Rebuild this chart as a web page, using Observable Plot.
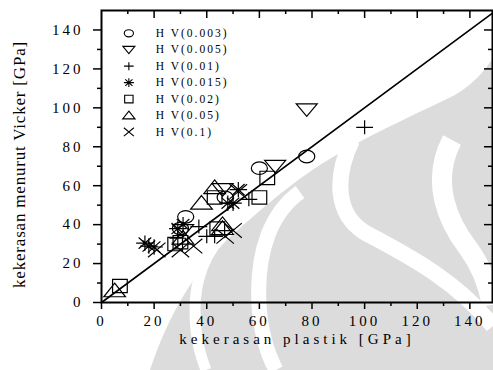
<!DOCTYPE html>
<html><head><meta charset="utf-8">
<script src="https://cdn.jsdelivr.net/npm/d3@7"></script>
<script src="https://cdn.jsdelivr.net/npm/@observablehq/plot@0.6"></script>
<style>
body{margin:0;background:#fff;}
#chart{position:relative;width:493px;height:370px;}
#chart svg{font-family:"Liberation Serif","Times New Roman",serif;}
#wm{position:absolute;left:0;top:0;}
#chart > svg.plot{position:absolute;left:0;top:0;}
</style>
</head><body><div id="chart">
<svg id="wm" width="493" height="370" viewBox="0 0 493 370">
  <path d="M150 370 C170 310 200 262 240 228 C270 202 300 175 345 150 C380 130 420 112 455 95 C472 85 484 72 493 58 L493 370 Z" fill="#dcdcdc"/>
  <path d="M300 192 C272 212 256 250 259 305 C261 335 268 355 276 370" fill="none" stroke="#fff" stroke-width="15"/>
  <path d="M220 238 C200 262 192 290 196 330 C198 348 202 360 206 370" fill="none" stroke="#fff" stroke-width="11"/>
  <path d="M352 140 C334 178 336 214 364 232 C400 252 452 276 493 326" fill="none" stroke="#fff" stroke-width="16"/>
  <path d="M452 140 C430 182 448 222 468 248 C480 264 488 284 492 305" fill="none" stroke="#fff" stroke-width="20"/>
</svg>
</div>
<script>
// ---- data ----
const series = ["H V(0.003)", "H V(0.005)", "H V(0.01)", "H V(0.015)", "H V(0.02)", "H V(0.05)", "H V(0.1)"];
const hv0003 = [[32,44],[60,69],[78,75],[30,38],[47,54]];
const hv0005 = [[78,99],[66,70],[46,58],[31,37]];
const hv001  = [[100,90],[56,53],[40,34],[37,39],[43,34],[29,33]];
const hv0015 = [[18,29],[20,28.5],[16.5,30.5],[29,38],[31,40],[50,51],[52,58],[48,51]];
const hv002  = [[7,8.5],[28,30],[30,31],[43,54],[60,54],[63,64],[44,38]];
const hv005  = [[5,6],[43,59],[38,51],[46,40],[46,38],[31,33]];
const hv01   = [[30,27],[35,29],[47,34],[50,37],[21,27],[52,57]];
const xTicks = [0,20,40,60,80,100,120,140];
const yTicks = [0,20,40,60,80,100,120,140];
const xMinor = [10,30,50,70,90,110,130];
const yMinor = [10,30,50,70,90,110,130];
const xTitle = "kekerasan plastik [GPa]";
const yTitle = "kekerasan menurut Vicker [GPa]";

const groups = [hv0003, hv0005, hv001, hv0015, hv002, hv005, hv01];
const points = groups.flatMap((g, i) => g.map(([x, y]) => ({series: series[i], x, y})));

// ---- symbols ----
const K = 0.5523;
function ell(c, rx, ry) {
  c.moveTo(rx, 0);
  c.bezierCurveTo(rx, ry*K, rx*K, ry, 0, ry);
  c.bezierCurveTo(-rx*K, ry, -rx, ry*K, -rx, 0);
  c.bezierCurveTo(-rx, -ry*K, -rx*K, -ry, 0, -ry);
  c.bezierCurveTo(rx*K, -ry, rx, -ry*K, rx, 0);
  c.closePath();
}
const R = s => Math.sqrt(s / Math.PI);
const symEllipse = {draw(c, s) { const r = R(s); ell(c, 1.15*r, 0.9*r); }};
const symTriDown = {draw(c, s) { const r = R(s); c.moveTo(-1.5*r, -0.85*r); c.lineTo(1.5*r, -0.85*r); c.lineTo(0, 0.95*r); c.closePath(); }};
const symPlus = {draw(c, s) { const r = R(s); c.moveTo(-1.2*r, 0); c.lineTo(1.2*r, 0); c.moveTo(0, -1.0*r); c.lineTo(0, 1.0*r); }};
const symAst = {draw(c, s) { const r = R(s); const a = 1.25*r, b = 1.1*r, d = 0.9*r, e = 0.8*r;
  c.moveTo(-a, 0); c.lineTo(a, 0); c.moveTo(0, -b); c.lineTo(0, b);
  c.moveTo(-d, -e); c.lineTo(d, e); c.moveTo(-d, e); c.lineTo(d, -e); }};
const symSquare = {draw(c, s) { const r = R(s); c.moveTo(-1.05*r, -0.95*r); c.lineTo(1.05*r, -0.95*r); c.lineTo(1.05*r, 0.95*r); c.lineTo(-1.05*r, 0.95*r); c.closePath(); }};
const symTriUp = {draw(c, s) { const r = R(s); c.moveTo(0, -1.1*r); c.lineTo(1.55*r, 0.85*r); c.lineTo(-1.55*r, 0.85*r); c.closePath(); }};
const symTimes = {draw(c, s) { const r = R(s); c.moveTo(-1.25*r, -1.05*r); c.lineTo(1.25*r, 1.05*r); c.moveTo(-1.25*r, 1.05*r); c.lineTo(1.25*r, -1.05*r); }};
const symbols = [symEllipse, symTriDown, symPlus, symAst, symSquare, symTriUp, symTimes];

const legendX = 10.4, legendTextX = 20.6, legendY0 = 138.3, legendStep = 8.45;
const legend = series.map((s, i) => ({series: s, x: legendX, tx: legendTextX, y: legendY0 - i * legendStep}));

const plotH = 292, plotW = 391;
const chart = Plot.plot({
  width: 493, height: 370,
  marginLeft: 101, marginRight: 1, marginTop: 10, marginBottom: 68,
  x: {domain: [0, 148.6]},
  y: {domain: [0, 150]},
  symbol: {domain: series, range: symbols},
  style: {fontFamily: "Liberation Serif, Times New Roman, serif", background: "transparent", color: "#000"},
  marks: [
    Plot.line([[0,0],[148.6,148.6]], {stroke: "#000", strokeWidth: 1.6}),
    Plot.dot(points, {x: "x", y: "y", symbol: "series", r: 7, stroke: "#000", strokeWidth: 1.2, fill: "none"}),
    Plot.dot(legend, {x: "x", y: "y", symbol: "series", r: 4, stroke: "#000", strokeWidth: 1.1, fill: "none"}),
    Plot.text(legend, {x: "tx", y: "y", text: "series", textAnchor: "start", fontSize: 11.5, fill: "#000"}),
    // bottom axis
    Plot.axisX({ticks: xTicks, tickSize: 7, tickPadding: 6, fontSize: 15, tickFormat: d => String(d), label: null, strokeWidth: 1.5}),
    Plot.axisX({ticks: xMinor, tickSize: 4, text: null, label: null, strokeWidth: 1.5}),
    // left axis
    Plot.axisY({ticks: yTicks, tickSize: 8, tickPadding: 10, fontSize: 15, tickFormat: d => String(d), label: null, strokeWidth: 1.5}),
    Plot.axisY({ticks: yMinor, tickSize: 4, text: null, label: null, strokeWidth: 1.5}),
    // top & right inward ticks
    Plot.tickX(xTicks.slice(1), {x: d => d, insetBottom: plotH - 8, stroke: "#000", strokeWidth: 1.5}),
    Plot.tickX(xMinor, {x: d => d, insetBottom: plotH - 4, stroke: "#000", strokeWidth: 1.5}),
    Plot.tickY(yTicks.slice(1), {y: d => d, insetLeft: plotW - 8, stroke: "#000", strokeWidth: 1.5}),
    Plot.tickY(yMinor, {y: d => d, insetLeft: plotW - 4, stroke: "#000", strokeWidth: 1.5}),
    Plot.frame({stroke: "#000", strokeWidth: 2}),
    Plot.text([xTitle], {frameAnchor: "bottom", dy: 41, fontSize: 15, fill: "#000"}),
    Plot.text([yTitle], {frameAnchor: "left", textAnchor: "middle", rotate: -90, dx: -82, dy: 8, fontSize: 17, fill: "#000"})
  ]
});
chart.classList.add("plot");
// letter spacing like the reference typography
chart.querySelectorAll("text").forEach(t => {
  const s = t.textContent;
  if (series.includes(s)) t.style.letterSpacing = "2px";
  else if (s === xTitle) t.style.letterSpacing = "4px";
  else if (s === yTitle) t.style.letterSpacing = "0.8px";
  else if (/^\d+$/.test(s)) t.style.letterSpacing = "3px";
});
document.getElementById("chart").appendChild(chart);
</script>
</body></html>
